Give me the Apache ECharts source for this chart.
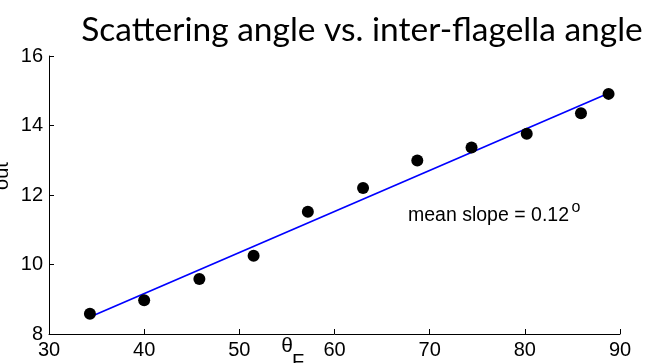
<!DOCTYPE html>
<html>
<head>
<meta charset="utf-8">
<script src="https://cdn.jsdelivr.net/npm/echarts@6/dist/echarts.min.js"></script>
<style>
  html, body { margin: 0; padding: 0; background: #ffffff; }
  #chart { width: 650px; height: 363px; }
</style>
</head>
<body>
<div id="chart"></div>
<script>
// Inter-flagella angle θF (degrees) and resulting scattering angle θout (degrees)
const flagellaAngle = [34.3, 40.0, 45.8, 51.5, 57.2, 63.0, 68.7, 74.4, 80.2, 85.9, 88.8];
const scatterAngle  = [8.58, 8.97, 9.58, 10.25, 11.52, 12.20, 12.99, 13.37, 13.76, 14.35, 14.91];

// Linear fit endpoints
const fitX = [34.3, 88.8];
const fitY = [8.49, 14.93];

const meanSlope = 0.12;

const xRange = [30, 90];
const xStep = 10;
const yRange = [8, 16];
const yStep = 2;

const chart = echarts.init(document.getElementById('chart'), null, { renderer: 'canvas' });

const sansFont = '"Liberation Sans", Arial, sans-serif';
const tickFont = { fontFamily: sansFont, fontSize: 20, color: '#000' };

chart.setOption({
  animation: false,
  backgroundColor: '#ffffff',
  title: {
    text: 'Scattering angle vs. inter-flagella angle',
    left: 357,
    top: 8,
    textAlign: 'center',
    textStyle: { fontFamily: 'Lato, "Open Sans", sans-serif', fontWeight: 'normal', fontSize: 33.5, color: '#000' }
  },
  grid: { left: 49, right: 30, top: 56, bottom: 29, containLabel: false },
  xAxis: {
    type: 'value',
    min: xRange[0], max: xRange[1], interval: xStep,
    axisLine: { show: true, onZero: false, lineStyle: { color: '#000', width: 1 } },
    axisTick: { show: true, inside: true, length: 5, lineStyle: { color: '#000' } },
    axisLabel: Object.assign({ margin: 6, showMinLabel: true, showMaxLabel: true }, tickFont),
    splitLine: { show: false }
  },
  yAxis: {
    type: 'value',
    min: yRange[0], max: yRange[1], interval: yStep,
    axisLine: { show: true, onZero: false, lineStyle: { color: '#000', width: 1 } },
    axisTick: { show: true, inside: true, length: 5, lineStyle: { color: '#000' } },
    axisLabel: Object.assign({ margin: 6, showMinLabel: true, showMaxLabel: true }, tickFont),
    splitLine: { show: false }
  },
  series: [
    {
      type: 'line',
      data: fitX.map((x, i) => [x, fitY[i]]),
      symbol: 'none',
      lineStyle: { color: '#0000ff', width: 1.7 },
      z: 2
    },
    {
      type: 'scatter',
      data: flagellaAngle.map((x, i) => [x, scatterAngle[i]]),
      symbol: 'circle',
      symbolSize: 12,
      itemStyle: { color: '#000', opacity: 1 },
      z: 3
    }
  ],
  graphic: [
    // y-axis name θout (θ falls outside the canvas edge)
    { type: 'text', x: -9, y: 198, rotation: Math.PI / 2,
      style: { text: 'θ', font: '20px ' + sansFont, fill: '#000', align: 'center', verticalAlign: 'middle' } },
    { type: 'text', x: 2, y: 176, rotation: Math.PI / 2,
      style: { text: 'out', font: '20px ' + sansFont, fill: '#000', align: 'center', verticalAlign: 'middle' } },
    // x-axis name θF
    { type: 'text', x: 287, y: 346,
      style: { text: 'θ', font: '21px ' + sansFont, fill: '#000', align: 'center', verticalAlign: 'middle' } },
    { type: 'text', x: 298, y: 362,
      style: { text: 'F', font: '20px ' + sansFont, fill: '#000', align: 'center', verticalAlign: 'middle' } },
    // slope annotation
    { type: 'text', x: 408, y: 216,
      style: { text: 'mean slope = ' + meanSlope.toFixed(2), font: '19.5px ' + sansFont, fill: '#000', align: 'left', verticalAlign: 'middle' } },
    { type: 'text', x: 576, y: 208,
      style: { text: 'o', font: '16px ' + sansFont, fill: '#000', align: 'center', verticalAlign: 'middle' } }
  ]
});
</script>
</body>
</html>
